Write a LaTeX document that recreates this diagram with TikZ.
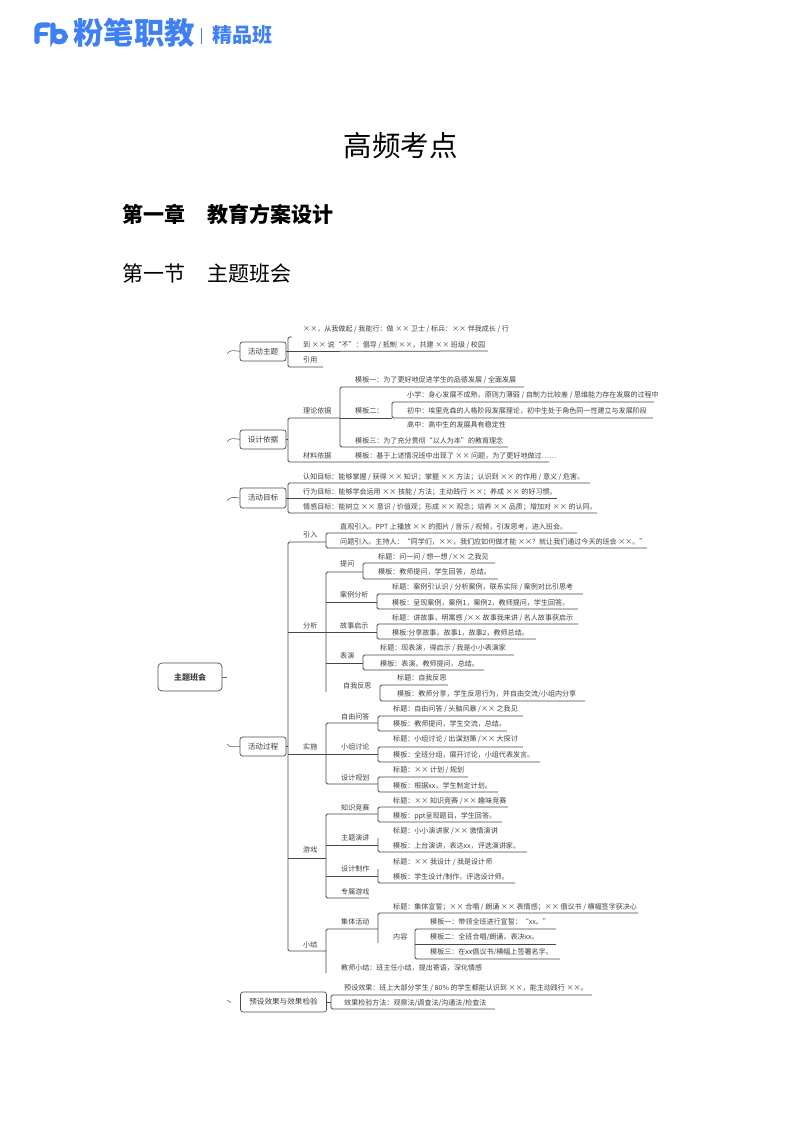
\documentclass[tikz,border=0pt]{standalone}
\usepackage{fontspec}
\setmainfont{Noto Sans CJK SC}
\definecolor{fbblue}{HTML}{3F80F4}
\tikzset{
  leaf/.style={anchor=west,inner sep=0pt,text=black!75,font=\fontsize{7.05}{9}\selectfont},
  topic/.style={draw=black!70,rounded corners=2.5pt,line width=0.7pt,inner sep=0pt,text=black!75,font=\fontsize{7.6}{9}\selectfont},
  ln/.style={draw=black!72,line width=0.75pt,rounded corners=1.5pt},
  stub/.style={draw=black!60,line width=0.6pt},
}
\begin{document}
\begin{tikzpicture}[x=1pt,y=-1pt]
    \useasboundingbox (0,0) rectangle (800,1132);
    % Logo
    \draw[fbblue,line width=5.4pt,line cap=round,line join=round] (37,41.3) -- (37,29) .. controls (37,26) and (39,25) .. (42,25) -- (48,25);
    \draw[fbblue,line width=4.6pt,line cap=round] (39,34) -- (46,34);
    \draw[fbblue,line width=5.2pt,line cap=round] (53,25) -- (53,36.5) arc[start angle=180,end angle=-180,x radius=6.2,y radius=-5.2];
    \node (logoa) at (73,33) [anchor=west,inner sep=0pt,text=fbblue,font=\fontsize{30.4}{31}\selectfont\bfseries] {粉笔职教};
    \node (logob) at (212,35) [anchor=west,inner sep=0pt,text=fbblue,font=\fontsize{20}{21}\selectfont\bfseries] {精品班};
    \draw[fbblue,line width=0.9pt] (201.5,28) -- (201.5,44);
    % Titulos
    \node (titulo) at (400.5,146) [inner sep=0pt,font=\fontsize{28.5}{30}\selectfont] {高频考点};
    \node (cap) at (122,214) [anchor=west,inner sep=0pt,font=\fontsize{21}{24}\selectfont\bfseries] {第一章\hspace{1.08em}教育方案设计};
    \node (sec) at (122,273) [anchor=west,inner sep=0pt,font=\fontsize{21}{24}\selectfont] {第一节\hspace{1.08em}主题班会};

    % Raiz
    \node (raiz) at (190,677) [topic,minimum width=64pt,minimum height=28pt,rounded corners=4pt,font=\fontsize{8}{9}\selectfont\bfseries] {主题班会};
    \coordinate (raize) at (227,677);
    \draw[stub] (raiz) -- (raize);

    % Activity theme
    \node (tema) at (263,351.5) [topic,minimum width=46pt,minimum height=19pt] {活动主题};
    \coordinate (temas) at (227,354);
    \coordinate (temaj) at (288,351.5);
    \draw[stub] (temas) .. controls (230,350) and (233,350) .. (tema.west);
    \node (a1) at (303,329) [leaf] {××，从我做起 / 我能行：做 ×× 卫士 / 标兵：×× 伴我成长 / 行};
    \node (a2) at (303,345) [leaf] {到 ×× 说“不”：倡导 / 抵制 ××，共建 ×× 班级 / 校园};
    \node (a3) at (303,360) [leaf] {引用};
    \coordinate (a2e) at (488,351);
    \coordinate (a3e) at (323,367);
    \coordinate (a0) at (292,337);
    \draw[ln] (tema) -- (temaj);
    \draw[ln] (a0) -| (temaj) |- (a3e);
    \draw[ln] (temaj) -- (a2e);

    % Design basis
    \node (base) at (263,439.5) [topic,minimum width=46pt,minimum height=19pt] {设计依据};
    \coordinate (bases) at (227,442);
    \coordinate (basej) at (288,439.5);
    \draw[stub] (bases) .. controls (230,438) and (233,438) .. (base.west);
    \node (teoria) at (303,411) [leaf] {理论依据};
    \node (mat) at (303,456) [leaf] {材料依据};
    \node (m0) at (355,456) [leaf] {模板：基于上述情况班中出现了 ×× 问题，为了更好地做过……};
    \node (m1) at (355,380) [leaf] {模板一：为了更好地促进学生的品德发展 / 全面发展};
    \node (m2) at (355,411) [leaf] {模板二：};
    \node (m3) at (355,441) [leaf] {模板三：为了充分贯彻“以人为本”的教育理念};
    \node (n1) at (407,395) [leaf] {小学：身心发展不成熟，原则力薄弱 / 自制力比较差 / 思维能力存在发展的过程中};
    \node (n2) at (407,411) [leaf] {初中：埃里克森的人格阶段发展理论，初中生处于角色同一性建立与发展阶段};
    \node (n3) at (407,425) [leaf] {高中：高中生的发展具有稳定性};
    \coordinate (teoriae) at (340,418);
    \coordinate (mate) at (549,462);
    \coordinate (m1e) at (524,387);
    \coordinate (m2e) at (392,418);
    \coordinate (m3e) at (508,447);
    \coordinate (n1e) at (654,402);
    \coordinate (n2e) at (653,418);
    \draw[ln] (base) -- (basej);
    \draw[ln] (teoriae) -| (basej) |- (mate);
    \draw[ln] (m1e) -| (teoriae) |- (m3e);
    \draw[ln] (teoriae) -- (m2e);
    \draw[ln] (n1e) -| (m2e) -- (n2e);

    % Activity goals
    \node (meta) at (263,498) [topic,minimum width=46pt,minimum height=20pt] {活动目标};
    \coordinate (metas) at (227,500.5);
    \coordinate (metaj) at (288,498);
    \draw[stub] (metas) .. controls (230,497) and (233,497) .. (meta.west);
    \node (g1) at (303,477) [leaf] {认知目标：能够掌握 / 获得 ×× 知识；掌握 ×× 方法；认识到 ×× 的作用 / 意义 / 危害。};
    \node (g2) at (303,492) [leaf] {行为目标：能够学会运用 ×× 技能 / 方法；主动践行 ××；养成 ×× 的好习惯。};
    \node (g3) at (303,507) [leaf] {情感目标：能树立 ×× 意识 / 价值观；形成 ×× 观念；培养 ×× 品质；增加对 ×× 的认同。};
    \coordinate (g1e) at (590,483);
    \coordinate (g2e) at (557,498);
    \coordinate (g3e) at (597,513);
    \draw[ln] (meta) -- (metaj);
    \draw[ln] (g1e) -| (metaj) |- (g3e);
    \draw[ln] (metaj) -- (g2e);

    % Activity process
    \node (proc) at (263,746.5) [topic,minimum width=46pt,minimum height=19pt] {活动过程};
    \coordinate (procs) at (227,744);
    \coordinate (procj) at (288,746.5);
    \draw[stub] (procs) .. controls (230,748) and (233,746.5) .. (proc.west);
    \node (intro) at (303,535) [leaf] {引入};
    \node (ana) at (303,626) [leaf] {分析};
    \node (imp) at (303,747) [leaf] {实施};
    \node (jue) at (303,850) [leaf] {游戏};
    \node (fin) at (303,945) [leaf] {小结};
    \coordinate (introe) at (326,542);
    \coordinate (anae) at (326,632);
    \coordinate (impe) at (326,754);
    \coordinate (juee) at (326,858);
    \coordinate (fine) at (326,951);
    \draw[ln] (proc) -- (procj);
    \draw[ln] (introe) -| (procj) |- (fine);
    \draw[ln] (procj |- anae) -- (anae);
    \draw[ln] (procj |- impe) -- (impe);
    \draw[ln] (procj |- juee) -- (juee);

    % Introduction
    \node (i1) at (340,527) [leaf] {直观引入。PPT 上播放 ×× 的图片 / 音乐 / 视频，引发思考，进入班会。};
    \node (i2) at (340,542) [leaf] {问题引入。主持人：“同学们，××，我们应如何做才能 ××？就让我们通过今天的班会 ××。”};
    \coordinate (i1e) at (577,533);
    \coordinate (i2e) at (647,548);
    \draw[ln] (i1e) -| (introe) |- (i2e);

    % Analysis
    \node (p) at (340,564) [leaf] {提问};
    \node (q) at (340,595) [leaf] {案例分析};
    \node (r) at (340,626) [leaf] {故事启示};
    \node (s) at (340,656) [leaf] {表演};
    \node (t) at (343,686) [leaf] {自我反思};
    \coordinate (pe) at (363,572);
    \coordinate (qe) at (377,602);
    \coordinate (re) at (377,632);
    \coordinate (se) at (363,663);
    \coordinate (tb) at (326,692);
    \draw[ln] (pe) -| (anae) -- (tb);
    \draw[ln] (anae |- qe) -- (qe);
    \draw[ln] (anae) -- (re);
    \draw[ln] (anae |- se) -- (se);
    \node (p1) at (378,557) [leaf] {标题：问一问 / 想一想 /×× 之我见};
    \node (p2) at (378,572) [leaf] {模板：教师提问，学生回答，总结。};
    \coordinate (p1e) at (495,563);
    \coordinate (p2e) at (498,579);
    \draw[ln] (p1e) -| (pe) |- (p2e);
    \node (q1) at (392,587) [leaf] {标题：案例引认识 / 分析案例，联系实际 / 案例对比引思考};
    \node (q2) at (392,603) [leaf] {模板：呈现案例，案例1，案例2，教师提问，学生回答。};
    \coordinate (q1e) at (583,594);
    \coordinate (q2e) at (578,609);
    \draw[ln] (q1e) -| (qe) |- (q2e);
    \node (r1) at (392,618) [leaf] {标题：讲故事，明寓感 /×× 故事我来讲 / 名人故事获启示};
    \node (r2) at (392,633) [leaf] {模板:分享故事，故事1，故事2，教师总结。};
    \coordinate (r1e) at (578,624);
    \coordinate (r2e) at (536,639);
    \draw[ln] (r1e) -| (re) |- (r2e);
    \node (s1) at (380,648) [leaf] {标题：现表演，得启示 / 我是小小表演家};
    \node (s2) at (380,664) [leaf] {模板：表演，教师提问，总结。};
    \coordinate (s1e) at (514,655);
    \coordinate (s2e) at (484,670);
    \draw[ln] (s1e) -| (se) |- (s2e);
    \node (t1) at (397,678) [leaf] {标题：自我反思};
    \node (t2) at (397,694) [leaf] {模板：教师分享，学生反思行为，并自由交流/小组内分享};
    \coordinate (t1e) at (448,685);
    \coordinate (t2b) at (380,701);
    \coordinate (t2e) at (585,701);
    \draw[ln] (t1e) -| (t2b) -- (t2e);

    % Implementation
    \node (u) at (341,717) [leaf] {自由问答};
    \node (v) at (341,747) [leaf] {小组讨论};
    \node (w) at (341,778) [leaf] {设计规划};
    \coordinate (ue) at (378,723);
    \coordinate (ve) at (378,754);
    \coordinate (we) at (378,784);
    \draw[ln] (ue) -| (impe) |- (we);
    \draw[ln] (impe) -- (ve);
    \node (u1) at (393,709) [leaf] {标题：自由问答 / 头脑风暴 /×× 之我见};
    \node (u2) at (393,724) [leaf] {模板：教师提问，学生交流，总结。};
    \coordinate (u1e) at (523,716);
    \coordinate (u2e) at (507,731);
    \draw[ln] (u1e) -| (ue) |- (u2e);
    \node (v1) at (393,739) [leaf] {标题：小组讨论 / 出谋划策 /×× 大探讨};
    \node (v2) at (393,755) [leaf] {模板：全班分组，展开讨论，小组代表发言。};
    \coordinate (v1e) at (523,747);
    \coordinate (v2e) at (540,762);
    \draw[ln] (v1e) -| (ve) |- (v2e);
    \node (w1) at (393,770) [leaf] {标题：×× 计划 / 规划};
    \node (w2) at (393,786) [leaf] {模板：根据xx，学生制定计划。};
    \coordinate (w1e) at (468,777);
    \coordinate (w2e) at (498,792);
    \draw[ln] (w1e) -| (we) |- (w2e);

    % Game
    \node (x) at (341,808) [leaf] {知识竞赛};
    \node (y) at (341,838) [leaf] {主题演讲};
    \node (z) at (341,869) [leaf] {设计制作};
    \node (zz) at (341,892) [leaf] {专属游戏};
    \coordinate (xe) at (378,814);
    \coordinate (ye) at (378,845);
    \coordinate (ze) at (378,876);
    \coordinate (zze) at (369,898);
    \draw[ln] (xe) -| (juee) |- (zze);
    \draw[ln] (juee |- ye) -- (ye);
    \draw[ln] (juee |- ze) -- (ze);
    \node (x1) at (393,801) [leaf] {标题：×× 知识竞赛 /×× 趣味竞赛};
    \node (x2) at (393,816) [leaf] {模板：ppt呈现题目，学生回答。};
    \coordinate (x1e) at (508,807);
    \coordinate (x2e) at (502,822);
    \draw[ln] (x1e) -| (xe) |- (x2e);
    \node (y1) at (393,831) [leaf] {标题：小小演讲家 /×× 激情演讲};
    \node (y2) at (393,846) [leaf] {模板：上台演讲，表达xx，评选演讲家。};
    \coordinate (y1b) at (378,838);
    \coordinate (y2e) at (527,852);
    \draw[ln] (y1b) |- (y2e);
    \node (z1) at (393,862) [leaf] {标题：×× 我设计 / 我是设计师};
    \node (z2) at (393,877) [leaf] {模板：学生设计/制作，评选设计师。};
    \coordinate (z1b) at (378,869);
    \coordinate (z2e) at (515,883);
    \draw[ln] (z1b) |- (z2e);

    % Summary
    \node (k) at (341,922) [leaf] {集体活动};
    \node (h) at (341,968) [leaf] {教师小结：班主任小结，提出寄语，深化情感};
    \coordinate (ke) at (378,929);
    \coordinate (hb) at (326,973);
    \draw[ln] (ke) -| (fine) -- (hb);
    \node (k1) at (393,907) [leaf] {标题：集体宣誓；×× 合唱 / 朗诵 ×× 表情感；×× 倡议书 / 横幅签字获决心};
    \node (k2) at (393,937) [leaf] {内容};
    \coordinate (k1e) at (638,913);
    \coordinate (k2b) at (378,943);
    \draw[ln] (k1e) -| (ke) -- (k2b);
    \node (c1) at (430,922) [leaf] {模板一：带领全班进行宣誓：“xx。”};
    \node (c2) at (430,937) [leaf] {模板二：全班合唱/朗诵，表决xx。};
    \node (c3) at (430,952) [leaf] {模板三：在xx倡议书/横幅上签署名字。};
    \coordinate (c1e) at (556,929);
    \coordinate (c2e) at (556,944);
    \coordinate (c3e) at (560,959);
    \coordinate (cj) at (415,944);
    \draw[ln] (c1e) -| (cj) |- (c3e);
    \draw[ln] (cj) -- (c2e);

    % Expected result
    \node (pre) at (283.5,1002) [topic,minimum width=86pt,minimum height=20pt] {预设效果与效果检验};
    \coordinate (pres) at (227,1000);
    \coordinate (prej) at (331,1002);
    \draw[stub] (pres) -- (231,1002.5);
    \node (e1) at (344,988) [leaf] {预设效果：班上大部分学生 / 80\% 的学生都能认识到 ××，能主动践行 ××。};
    \node (e2) at (344,1003) [leaf] {效果检验方法：观察法/调查法/沟通法/检查法};
    \coordinate (e1e) at (592,995);
    \coordinate (e2e) at (495,1009);
    \draw[ln] (pre) -- (prej);
    \draw[ln] (e1e) -| (prej) |- (e2e);
\end{tikzpicture}
\end{document}
